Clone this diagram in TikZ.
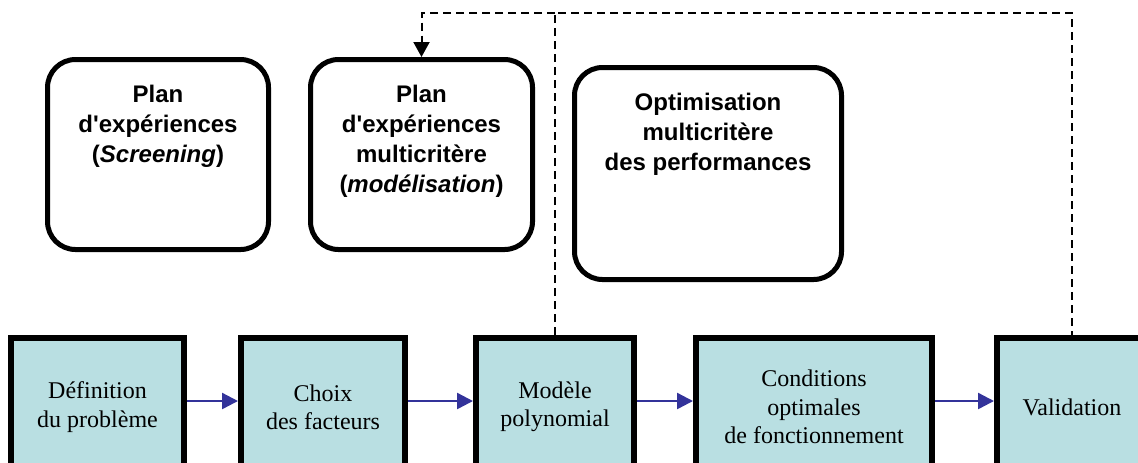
\documentclass[tikz,border=0pt]{standalone}
\usepackage{fontspec}
\setmainfont{Liberation Serif}
\setsansfont{Liberation Sans}
\usepackage{xcolor}
\definecolor{fondetape}{HTML}{B9DFE2}
\definecolor{bleufleche}{HTML}{33339A}
\usepackage{tikz}
\usetikzlibrary{arrows.meta,positioning}

\begin{document}
\begin{tikzpicture}[
  x=0.5pt, y=-0.5pt,
  plan/.style={
    rectangle, rounded corners=14pt, draw=black, line width=2.5pt,
    inner sep=0pt, anchor=north,
    font=\sffamily\bfseries\fontsize{12}{15}\selectfont
  },
  etape/.style={
    rectangle, draw=black, fill=fondetape, line width=3pt,
    inner sep=0pt, minimum height=69pt, align=center,
    font=\fontsize{12}{14.2}\selectfont
  },
  fleche/.style={-{Triangle[length=8pt,width=8pt]}, bleufleche, line width=1.2pt},
  tirets/.style={black, line width=1pt, dash pattern=on 4pt off 2.5pt}
]
\useasboundingbox (0,0) rectangle (1138,462);
\clip (0,0) rectangle (1138,462);

% Plans (haut)
\node[plan] (pA) at (158,57) {\parbox[t][95pt][t]{110.5pt}{\centering\vspace*{12.8pt}Plan\\d\textquotesingle expériences\\(\textit{Screening})}};
\node[plan] (pB) at (421.5,57) {\parbox[t][95pt][t]{111pt}{\centering\vspace*{12.8pt}Plan\\d\textquotesingle expériences\\multicritère\\(\textit{modélisation})}};
\node[plan] (pC) at (708,65) {\parbox[t][106pt][t]{133.5pt}{\centering\vspace*{12.8pt}Optimisation\\multicritère\\des performances}};

% Etapes (bas)
\node[etape, minimum width=86.5pt, anchor=north] (d1) at (97.5,335) {Définition\\du problème};
\node[etape, minimum width=82pt, right=25.5pt of d1] (d2) {Choix\\des facteurs};
\node[etape, minimum width=79pt, right=32.5pt of d2] (d3) {Modèle\\polynomial};
\node[etape, minimum width=118pt, right=28pt of d3] (d4) {Conditions\\optimales\\de fonctionnement};
\node[etape, minimum width=75pt, right=29.5pt of d4] (d5) {Validation};

% Fleches
\foreach \a/\b in {d1/d2, d2/d3, d3/d4, d4/d5}
  \draw[fleche] ([yshift=3pt]\a.east) -- ([yshift=3pt]\b.west);

% Retour en tirets
\coordinate (haut) at (0,13);
\draw[tirets] (d3.north) |- (haut -| d5.north) -- (d5.north);
\draw[tirets, -{Triangle[length=7.5pt,width=8pt]}] (haut -| d3.north) -| (pB.north);
\end{tikzpicture}
\end{document}
